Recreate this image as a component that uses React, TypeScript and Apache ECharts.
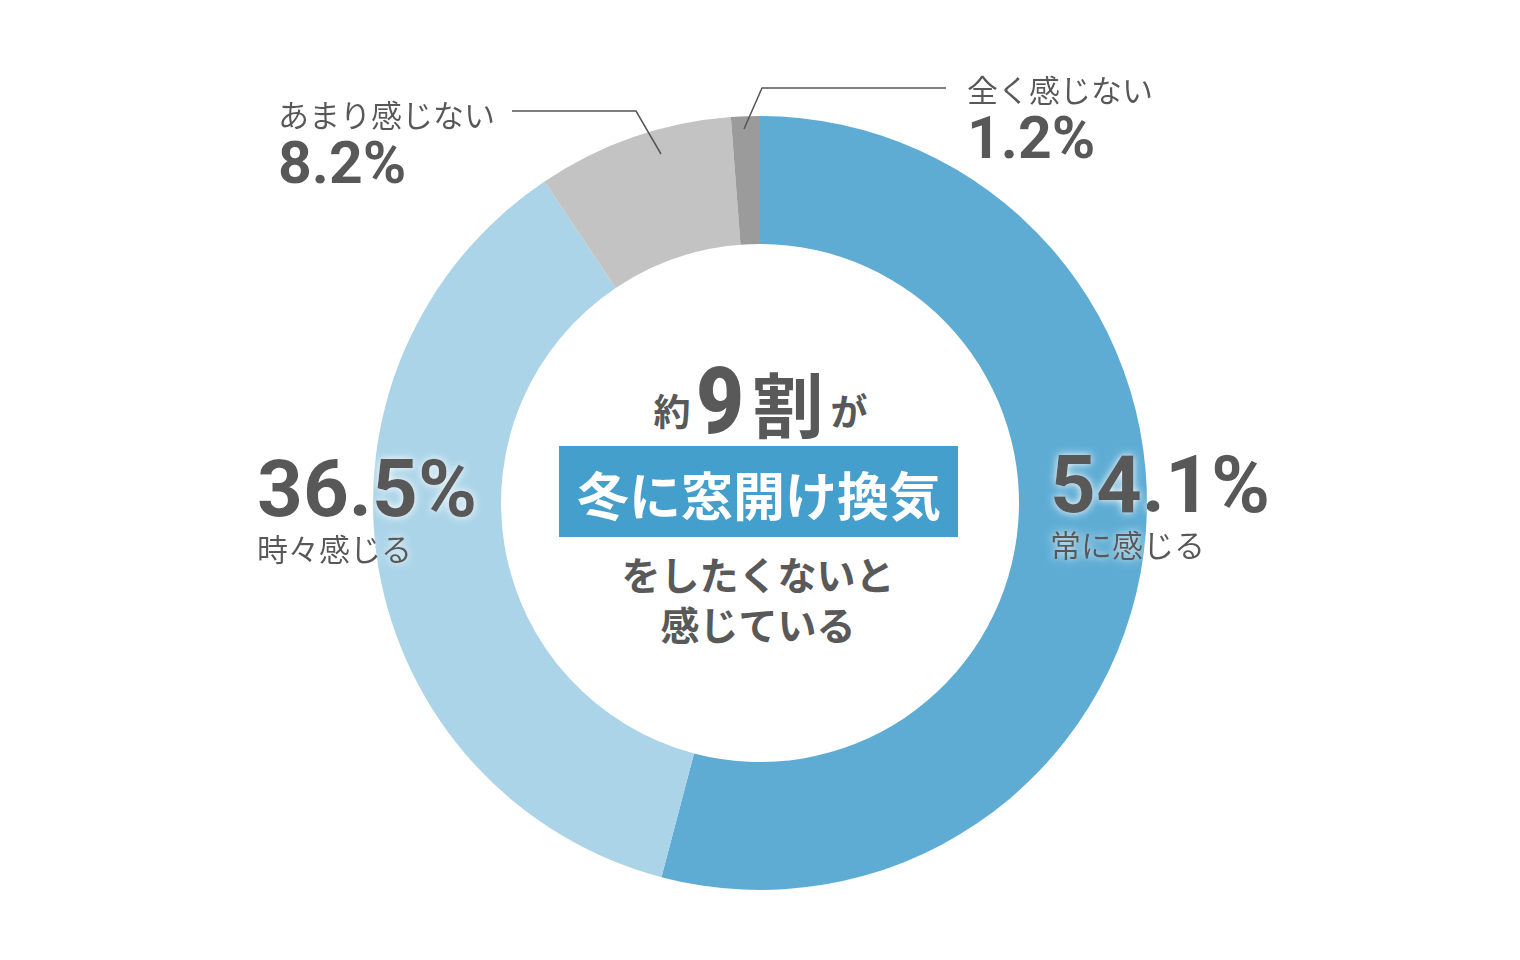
import React, { useEffect, useRef } from "react";
import * as echarts from "echarts";

const categories = ["常に感じる", "時々感じる", "あまり感じない", "全く感じない"];
const values = [54.1, 36.5, 8.2, 1.2];
const colors = ["#5eacd4", "#abd4e8", "#c3c3c3", "#9b9b9b"];
const headline = ["約", "9", "割", "が"];
const bannerText = "冬に窓開け換気";
const subLines = ["をしたくないと", "感じている"];

const TEXT = "#595959";
const JP = '"Noto Sans CJK JP", "Noto Sans", sans-serif';
const NUM = 'Roboto, "Noto Sans", sans-serif';

export default function App() {
  const ref = useRef<HTMLDivElement>(null);
  useEffect(() => {
    document.body.style.margin = "0";
    const chart = echarts.init(ref.current!, null, { renderer: "svg" });
    const glow = { textShadowColor: "#ffffff", textShadowBlur: 8 };
    const pct = (v: number) => v.toFixed(1) + "%";

    // nameFirst: name line above value line; top = top of the text block
    const labelSpecs = [
      { x: 1050, top: 450, valSize: 80, nameFirst: false },
      { x: 257, top: 454, valSize: 80, nameFirst: false },
      { x: 278, top: 95, valSize: 59, nameFirst: true },
      { x: 967, top: 70, valSize: 59, nameFirst: true },
    ];

    const labelGraphics: any[] = categories.map((c, i) => {
      const s = labelSpecs[i];
      const big = s.valSize > 70;
      const nameStyle = {
        fontFamily: JP,
        fontWeight: 400,
        fontSize: 31,
        lineHeight: big ? 46 : 36,
        fill: TEXT,
        ...glow,
      };
      const valStyle = {
        fontFamily: NUM,
        fontWeight: 700,
        fontSize: s.valSize,
        lineHeight: big ? 70 : 62,
        fill: TEXT,
        ...glow,
      };
      const text = s.nameFirst
        ? `{n|${c}}\n{v|${pct(values[i])}}`
        : `{v|${pct(values[i])}}\n{n|${c}}`;
      return {
        type: "text",
        x: s.x,
        y: s.top,
        z: 10,
        style: {
          text,
          textAlign: "left",
          textVerticalAlign: "top",
          fill: TEXT,
          rich: { n: nameStyle, v: valStyle },
        },
      };
    });

    const option: any = {
      animation: false,
      backgroundColor: "#ffffff",
      series: [
        {
          type: "pie",
          center: [760, 503],
          radius: [259, 387],
          startAngle: 90,
          clockwise: true,
          silent: true,
          label: { show: false },
          labelLine: { show: false },
          itemStyle: { borderWidth: 0 },
          data: categories.map((c, i) => ({
            name: c,
            value: values[i],
            itemStyle: { color: colors[i] },
          })),
        },
      ],
      graphic: [
        ...labelGraphics,
        {
          type: "polyline",
          z: 9,
          shape: { points: [[512, 111], [636, 111], [661, 154]] },
          style: { stroke: "#555555", lineWidth: 1.5, fill: null },
        },
        {
          type: "polyline",
          z: 9,
          shape: { points: [[744, 129], [762, 88], [946, 88]] },
          style: { stroke: "#555555", lineWidth: 1.5, fill: null },
        },
        {
          type: "text",
          x: 672,
          y: 410,
          style: { text: headline[0], font: `700 37px ${JP}`, fill: TEXT, textAlign: "center", textVerticalAlign: "middle" },
        },
        {
          type: "text",
          x: 720,
          y: 401,
          scaleX: 0.9,
          style: { text: headline[1], font: `900 92px ${NUM}`, fill: TEXT, textAlign: "center", textVerticalAlign: "middle" },
        },
        {
          type: "text",
          x: 788,
          y: 401,
          style: { text: headline[2], font: `700 71px ${JP}`, fill: TEXT, textAlign: "center", textVerticalAlign: "middle" },
        },
        {
          type: "text",
          x: 849,
          y: 410,
          style: { text: headline[3], font: `700 37px ${JP}`, fill: TEXT, textAlign: "center", textVerticalAlign: "middle" },
        },
        {
          type: "rect",
          shape: { x: 559, y: 446, width: 399, height: 91 },
          style: { fill: "#449fcd" },
        },
        {
          type: "text",
          x: 759,
          y: 493,
          style: { text: bannerText, font: `700 52px ${JP}`, fill: "#ffffff", textAlign: "center", textVerticalAlign: "middle" },
        },
        {
          type: "text",
          x: 758,
          y: 548,
          style: {
            text: subLines.join("\n"),
            font: `700 39px ${JP}`,
            lineHeight: 50,
            fill: TEXT,
            textAlign: "center",
            textVerticalAlign: "top",
          },
        },
      ],
    };
    chart.setOption(option);
    return () => chart.dispose();
  }, []);
  return <div ref={ref} style={{ width: 1520, height: 960 }} />;
}
